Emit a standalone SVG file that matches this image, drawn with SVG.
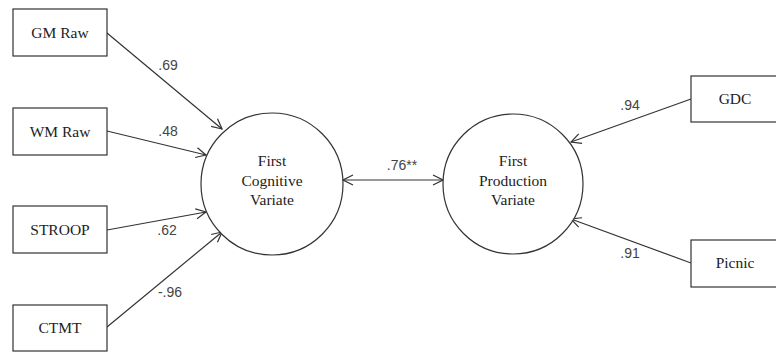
<svg xmlns="http://www.w3.org/2000/svg" width="776" height="352" viewBox="0 0 776 352">
<style>
.box{fill:#fff;stroke:#333;stroke-width:1.2}
.circ{fill:#fff;stroke:#333;stroke-width:1.2}
.t{font-family:"Liberation Serif","Times New Roman",serif;font-size:15.5px;fill:#222;text-anchor:middle}
.c{font-family:"Liberation Serif","Times New Roman",serif;font-size:15.5px;fill:#222;text-anchor:middle}
.l{font-family:"Liberation Sans",sans-serif;font-size:14px;fill:#444;text-anchor:middle}
.e{stroke:#333;stroke-width:1.2;fill:none}
</style>
<defs>
<marker id="ah" viewBox="0 0 12 12" refX="11" refY="6" markerWidth="12" markerHeight="12" markerUnits="userSpaceOnUse" orient="auto-start-reverse">
<path d="M1,1 L11,6 L1,11" fill="none" stroke="#333" stroke-width="1.2"/>
</marker>
</defs>
<rect width="776" height="352" fill="#fff"/>
<g id="connectors">
<line class="e" x1="107" y1="33" x2="222" y2="129" marker-end="url(#ah)"/>
<line class="e" x1="107" y1="131" x2="206" y2="155" marker-end="url(#ah)"/>
<line class="e" x1="107" y1="230" x2="206" y2="212" marker-end="url(#ah)"/>
<line class="e" x1="107" y1="327" x2="222" y2="232" marker-end="url(#ah)"/>
<line class="e" x1="343" y1="180" x2="443" y2="180" marker-start="url(#ah)" marker-end="url(#ah)"/>
<line class="e" x1="691" y1="99" x2="571" y2="142" marker-end="url(#ah)"/>
<line class="e" x1="691" y1="263" x2="571" y2="219" marker-end="url(#ah)"/>
<text class="l" x="168" y="70">.69</text>
<text class="l" x="168" y="136">.48</text>
<text class="l" x="167" y="235">.62</text>
<text class="l" x="170" y="297">-.96</text>
<text class="l" x="630" y="110">.94</text>
<text class="l" x="630" y="258">.91</text>
<text class="l" x="402" y="170">.76**</text>
</g>
<g id="gmraw"><rect class="box" x="13" y="9" width="94" height="47"/><text class="t" x="60" y="38">GM Raw</text></g>
<g id="wmraw"><rect class="box" x="13" y="108" width="94" height="47"/><text class="t" x="60" y="137">WM Raw</text></g>
<g id="stroop"><rect class="box" x="13" y="206" width="94" height="47"/><text class="t" x="60" y="235">STROOP</text></g>
<g id="ctmt"><rect class="box" x="13" y="305" width="94" height="46"/><text class="t" x="60" y="333">CTMT</text></g>
<g id="cog"><circle class="circ" cx="272" cy="184" r="71"/><text class="c" x="272" y="166">First</text><text class="c" x="272" y="186">Cognitive</text><text class="c" x="272" y="205">Variate</text></g>
<g id="prod"><circle class="circ" cx="513" cy="184" r="70"/><text class="c" x="513" y="166">First</text><text class="c" x="513" y="186">Production</text><text class="c" x="513" y="205">Variate</text></g>
<g id="gdc"><rect class="box" x="691" y="76" width="90" height="46"/><text class="t" x="735" y="104">GDC</text></g>
<g id="picnic"><rect class="box" x="691" y="240" width="90" height="47"/><text class="t" x="735" y="268">Picnic</text></g>
</svg>
